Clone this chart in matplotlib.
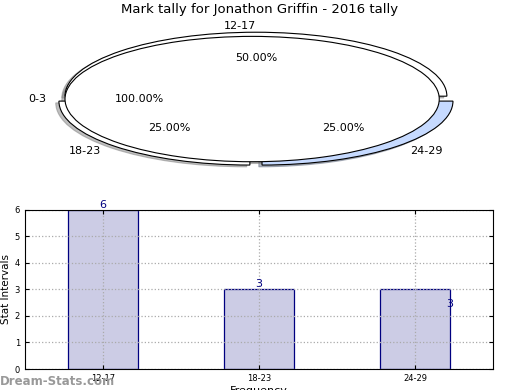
import matplotlib
matplotlib.use("Agg")
import matplotlib.pyplot as plt

title = "Mark tally for Jonathon Griffin - 2016 tally"

# pie data
outer_labels = ["12-17", "18-23", "24-29"]
outer_values = [6, 3, 3]
inner_labels = ["0-3"]
inner_values = [1]

# bar data
bar_labels = ["12-17", "18-23", "24-29"]
bar_values = [6, 3, 3]
# where the value labels sit (the last one is oddly placed in the original)
text_x = [0, 1, 2.22]
text_y = [6, 3, 2.25]

fig = plt.figure(figsize=(5.2, 3.9), dpi=100)
fig.text(0.5, 1 - 10 / 390, title, ha="center", va="center", fontsize=9.5)

# top: flattened pie
shadow = dict(ox=-0.012, oy=-0.02, shade=0.5)
ax1 = fig.add_axes([0.0332, 0.541, 0.918, 0.410])
ax1.pie(outer_values, labels=outer_labels, colors=["white", "white", "#c6daff"],
        explode=[0.045] * 3, startangle=0, autopct="%1.2f%%", shadow=shadow,
        wedgeprops=dict(edgecolor="black", linewidth=0.8),
        textprops=dict(fontsize=8))
ax1.pie(inner_values, labels=inner_labels, colors=["white"], radius=0.98,
        explode=[0.02], startangle=0, autopct="%1.2f%%", shadow=shadow,
        wedgeprops=dict(edgecolor="black", linewidth=0.8),
        textprops=dict(fontsize=8))
ax1.set_aspect("auto")
ax1.set_xlim(-1.25, 1.25)
ax1.set_ylim(-1.25, 1.25)

# bottom: bar chart
ax2 = fig.add_axes([0.048, 0.0538, 0.9, 0.408])
x = list(range(len(bar_values)))
ax2.bar(x, bar_values, width=0.45, color="#ccccE5", edgecolor="#000080", linewidth=0.9)
for tx, ty, v in zip(text_x, text_y, bar_values):
    ax2.text(tx, ty, str(v), ha="center", va="bottom", color="#000080", fontsize=8)
ax2.set_xlim(-0.5, 2.5)
ax2.set_ylim(0, 6)
ax2.set_xticks(x)
ax2.set_xticklabels(bar_labels, fontsize=6)
ax2.set_yticks(range(0, 7))
ax2.tick_params(axis="y", labelsize=6)
ax2.tick_params(direction="in", top=True, right=True, length=3)
ax2.set_axisbelow(False)
ax2.grid(True, linestyle=":", color="#aaaaaa", linewidth=0.9)
for sp in ax2.spines.values():
    sp.set_zorder(3)
ax2.set_ylabel("Stat Intervals", fontsize=7.5, labelpad=3)
ax2.set_xlabel("Frequency", fontsize=8, labelpad=2)

fig.text(0.0, 0.023, "Dream-Stats.com", color="#999999", fontsize=8.5,
         fontweight="bold", ha="left", va="center")

fig.savefig("out.png", dpi=100)
